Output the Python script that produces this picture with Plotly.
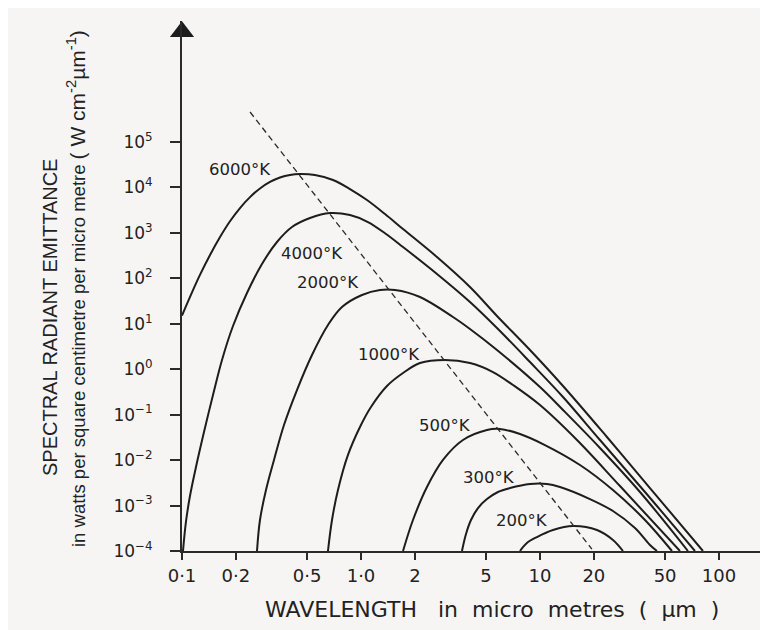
import math
import plotly.graph_objects as go

# ---- data (wavelength in µm, emittance in W cm^-2 µm^-1) ----
temps = ["6000°K", "4000°K", "2000°K", "1000°K", "500°K", "300°K", "200°K"]

wl_6000 = [0.1, 0.1123, 0.1260, 0.1434, 0.1631, 0.1854, 0.2109, 0.2398, 0.2727, 0.3102,
           0.3527, 0.4012, 0.456, 0.553, 0.698, 0.868, 1.080, 1.362, 1.717, 2.658, 4.064,
           5.752, 8.795, 13.45, 23.67, 41.17, 81.39]
em_6000 = [15.2, 43.9, 119, 327, 813, 1811, 3532, 6138, 9506, 13210,
           16600, 18920, 19820, 18840, 14620, 9250, 5297, 2606, 1219, 295, 64.6,
           14.9, 2.65, 0.428, 0.0323, 2.43e-3, 1e-4]

wl_4000 = [0.1013, 0.1052, 0.1108, 0.1197, 0.1327, 0.149, 0.1673, 0.1927, 0.2307, 0.2798,
           0.3393, 0.4116, 0.519, 0.6711, 0.868, 1.094, 1.380, 1.717, 2.658, 4.064, 5.752,
           8.795, 13.45, 21.64, 38.61, 73.44]
em_4000 = [1e-4, 4.35e-4, 1.62e-3, 7.06e-3, 0.0416, 0.271, 1.60, 8.95, 47.6, 207,
           631, 1349, 2128, 2742, 2477, 1738, 946, 490, 125, 30.2, 8.09,
           1.44, 0.245, 0.0277, 1.99e-3, 1e-4]

wl_2000 = [0.2624, 0.2727, 0.2946, 0.3266, 0.3714, 0.4389, 0.5324, 0.654, 0.7831, 1.013,
           1.277, 1.549, 2.136, 3.266, 4.064, 5.752, 10.0, 13.45, 21.64, 36.21, 67.12]
em_2000 = [1e-4, 4.81e-4, 2.2e-3, 0.0101, 0.0593, 0.349, 2.06, 9.42, 23.4, 43.1,
           55.5, 55.5, 38.9, 14.1, 7.69, 2.65, 0.406, 0.127, 0.0185, 1.99e-3, 1e-4]

wl_1000 = [0.654, 0.6887, 0.7437, 0.8459, 0.9872, 1.137, 1.397, 1.717, 2.136, 2.947,
           4.064, 5.463, 7.067, 10.0, 16.10, 27.99, 60.55]
em_1000 = [1e-4, 4.81e-4, 2.2e-3, 0.0130, 0.0536, 0.1476, 0.428, 0.826, 1.37, 1.60,
           1.37, 0.869, 0.450, 0.163, 0.0277, 2.69e-3, 1e-4]

wl_500 = [1.717, 1.952, 2.337, 2.872, 3.713, 5.057, 5.979, 7.732, 10.66, 16.73, 25.57, 38.61, 54.63]
em_500 = [1e-4, 4.81e-4, 2.56e-3, 0.0101, 0.0277, 0.046, 0.0484, 0.0376, 0.0215, 7.82e-3,
          2.2e-3, 4.81e-4, 1e-4]

wl_300 = [3.666, 3.861, 4.117, 4.505, 5.057, 5.826, 6.800, 8.795, 10.94, 12.93, 19.02,
          25.57, 33.95, 41.17, 45.05]
em_300 = [1e-4, 2.37e-4, 4.81e-4, 8.83e-4, 1.39e-3, 1.99e-3, 2.43e-3, 2.98e-3, 2.98e-3,
          2.56e-3, 1.39e-3, 7.59e-4, 3.21e-4, 1.36e-4, 1e-4]

wl_200 = [7.732, 8.45, 9.621, 11.82, 15.29, 20.82, 25.57, 29.09]
em_200 = [1e-4, 1.50e-4, 2.03e-4, 2.90e-4, 3.55e-4, 2.90e-4, 1.75e-4, 1e-4]

# Wien displacement (dashed) line end points
wl_peak = [0.240, 19.5]
em_peak = [4.58e5, 1.1e-4]

# label anchor points (wavelength, emittance)
label_wl = [0.211, 0.532, 0.655, 1.43, 2.94, 5.19, 7.93]
label_em = [2.55e4, 361, 79.1, 2.16, 0.0593, 4.05e-3, 4.81e-4]

x_tick_vals = [0.1, 0.2, 0.5, 1, 2, 5, 10, 20, 50, 100]
x_tick_text = ["0·1", "0·2", "0·5", "1·0", "2", "5", "10", "20", "50", "100"]
y_exponents = [-4, -3, -2, -1, 0, 1, 2, 3, 4, 5]

series = [(wl_6000, em_6000), (wl_4000, em_4000), (wl_2000, em_2000), (wl_1000, em_1000),
          (wl_500, em_500), (wl_300, em_300), (wl_200, em_200)]

INK = "#1d1d1d"
BG = "#f7f5f4"

fig = go.Figure()
for (wl, em), name in zip(series, temps):
    fig.add_trace(go.Scatter(x=wl, y=em, mode="lines", name=name, showlegend=False,
                             hoverinfo="skip",
                             line=dict(color=INK, width=2, shape="spline", smoothing=1.0)))

fig.add_trace(go.Scatter(x=wl_peak, y=em_peak, mode="lines", showlegend=False, hoverinfo="skip",
                         line=dict(color="#2a2a2a", width=1.3, dash="6px,4px")))

# arrow head on the top of the vertical axis
fig.add_trace(go.Scatter(x=[0.1], y=[10 ** 7.43], mode="markers", showlegend=False,
                         hoverinfo="skip", cliponaxis=False,
                         marker=dict(symbol="triangle-up", size=21, color=INK)))

for t, lx, ly in zip(temps, label_wl, label_em):
    fig.add_annotation(x=math.log10(lx), y=math.log10(ly), text=t, showarrow=False,
                       xanchor="center", yanchor="middle",
                       font=dict(family="DejaVu Sans", size=16.5, color="#222"))

# page is offset by the 8px body margin: plot area spans page x 182..768, y 21..551
PX0, PW, PY1, PH = 182, 586, 551, 530

fig.add_annotation(xref="paper", yref="paper", x=(50 - PX0) / PW, y=(PY1 - 318) / PH,
                   text="SPECTRAL RADIANT EMITTANCE", textangle=-90, showarrow=False,
                   xanchor="center", yanchor="middle",
                   font=dict(family="Liberation Sans Narrow, Liberation Sans, Arial", size=20, color="#222"))
fig.add_annotation(xref="paper", yref="paper", x=(76 - PX0) / PW, y=(PY1 - 289) / PH,
                   text="in watts per square centimetre per micro metre "
                        "<span style='font-size:21px'>( W cm<sup>-2</sup>µm<sup>-1</sup>)</span>",
                   textangle=-90, showarrow=False, xanchor="center", yanchor="middle",
                   font=dict(family="Liberation Sans Narrow, Liberation Sans, Arial", size=18.5, color="#222"))
fig.add_annotation(xref="paper", yref="paper", x=(492 - PX0) / PW, y=(PY1 - 609) / PH,
                   text="WAVELENGTH   in  micro  metres  (  µm  )", showarrow=False,
                   xanchor="center", yanchor="middle",
                   font=dict(family="DejaVu Sans", size=22, color="#222"))

fig.update_layout(
    width=768, height=630,
    margin=dict(l=174, r=8, t=13, b=87),
    paper_bgcolor=BG, plot_bgcolor=BG,
    xaxis=dict(type="log", range=[-1, 2.274], showgrid=False, zeroline=False,
               showline=True, linecolor="#2a2a2a", linewidth=2,
               ticks="outside", ticklen=7, tickwidth=1.5, tickcolor="#2a2a2a",
               tickvals=x_tick_vals, ticktext=x_tick_text, ticklabelstandoff=0,
               tickfont=dict(family="DejaVu Sans", size=18, color="#222")),
    yaxis=dict(type="log", range=[-4, 7.664], showgrid=False, zeroline=False,
               showline=True, linecolor="#2a2a2a", linewidth=2,
               ticks="outside", ticklen=10, tickwidth=1.5, tickcolor="#2a2a2a",
               tickvals=[10 ** e for e in y_exponents],
               ticktext=["10<sup>%s</sup>" % (str(e).replace("-", "−")) for e in y_exponents],
               ticklabelstandoff=14,
               tickfont=dict(family="DejaVu Sans", size=17, color="#222")),
)

fig.write_html("out.html")
